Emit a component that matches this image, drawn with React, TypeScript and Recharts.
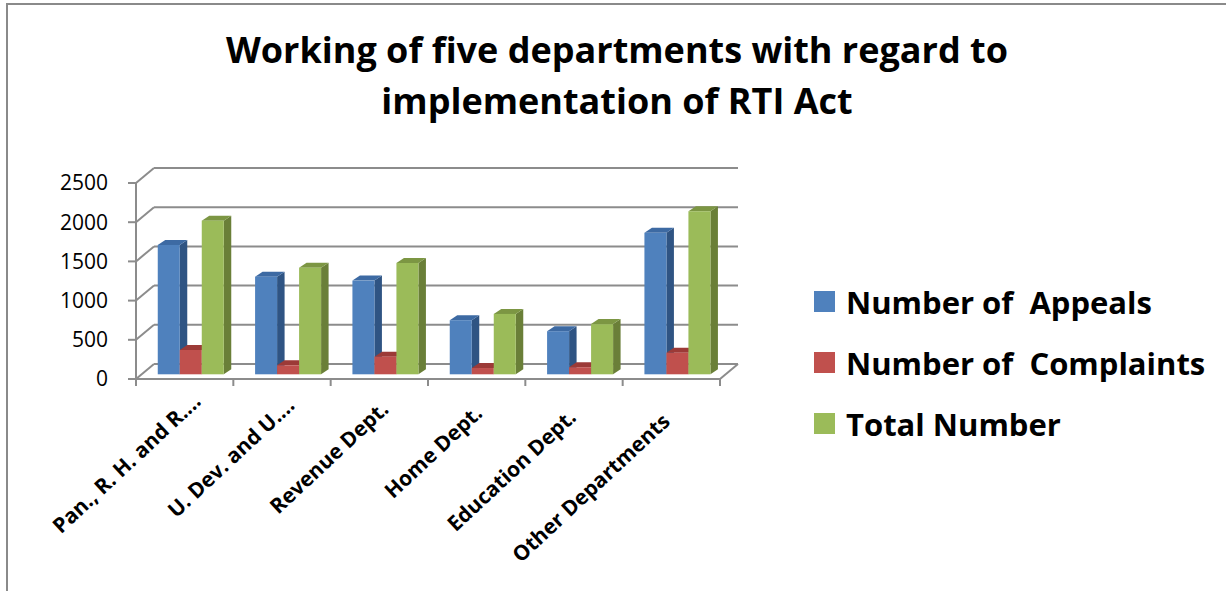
import React from 'react';
import { BarChart, Bar, XAxis, YAxis, CartesianGrid, Legend } from 'recharts';

const categories = ['Pan., R. H. and R....', 'U. Dev. and U....', 'Revenue Dept.', 'Home Dept.', 'Education Dept.', 'Other Departments'];
const appeals = [1650, 1245, 1195, 690, 550, 1805];
const complaints = [310, 115, 225, 80, 90, 275];
const totals = [1960, 1360, 1420, 770, 640, 2080];
const yTicks = [0, 500, 1000, 1500, 2000, 2500];
const seriesNames = ['Number of  Appeals', 'Number of  Complaints', 'Total Number'];
const titleLines = ['Working of five departments with regard to', 'implementation of RTI Act'];

const data = categories.map((c, i) => ({ name: c, appeals: appeals[i], complaints: complaints[i], total: totals[i] }));

const DX = 18, DY = 15;
const BOX = 5.6, BOY = 4.7;
const BDX = 7.5, BDY = 5;
const GRID = '#8C8C8C';
const FONT = '"Open Sans", Lato, sans-serif';

function make3D(front: string, side: string, top: string) {
  return (props: any) => {
    const { x, y, width, height } = props;
    if (x == null || y == null || !width) return <g />;
    const h = Math.max(height || 0, 0);
    const fx = x + BOX, fy = y - BOY;
    return (
      <g>
        <polygon points={`${fx + width},${fy} ${fx + width + BDX},${fy - BDY} ${fx + width + BDX},${fy + h - BDY} ${fx + width},${fy + h}`} fill={side} />
        <polygon points={`${fx},${fy} ${fx + BDX},${fy - BDY} ${fx + width + BDX},${fy - BDY} ${fx + width},${fy}`} fill={top} />
        <rect x={fx} y={fy} width={width} height={h} fill={front} />
      </g>
    );
  };
}

const gridLine = (props: any) => {
  const { x1, y1, x2, y2 } = props;
  return (
    <g key={props.key ?? `g-${y1}`}>
      <line x1={x1} y1={y1} x2={x1 + DX} y2={y1 - DY} stroke={GRID} strokeWidth={2} />
      <line x1={x1 + DX} y1={y1 - DY} x2={x2 + DX} y2={y2 - DY} stroke={GRID} strokeWidth={2} />
    </g>
  );
};

const CatTick = (props: any) => {
  const { x, y, payload, index } = props;
  const off = payload && payload.offset ? payload.offset : 584 / 12;
  const i = index ?? 0;
  const last = i === categories.length - 1;
  const dx = 17.5 - 3.5 * i;
  const dy = 24 + 4 * i;
  return (
    <g>
      <line x1={x - off} y1={y} x2={x - off} y2={y + 7} stroke={GRID} strokeWidth={2} />
      {last && <line x1={x + off} y1={y} x2={x + off} y2={y + 7} stroke={GRID} strokeWidth={2} />}
      {last && <line x1={x + off} y1={y} x2={x + off + DX} y2={y - DY} stroke={GRID} strokeWidth={2} />}
      <text
        transform={`translate(${x + dx},${y + dy}) rotate(-43)`}
        textAnchor="end"
        fontFamily={FONT}
        fontWeight={700}
        fontSize={21}
        fill="#000"
      >
        {payload.value}
      </text>
    </g>
  );
};

const renderLegend = (props: any) => {
  const { payload } = props;
  return (
    <div>
      {(payload || []).map((entry: any, idx: number) => (
        <div key={idx} style={{ display: 'flex', alignItems: 'center', height: 61 }}>
          <div style={{ width: 21, height: 21, background: entry.color, marginRight: 11, flex: 'none' }} />
          <span style={{ fontFamily: FONT, fontWeight: 700, fontSize: 31, lineHeight: '40px', color: '#000', whiteSpace: 'pre' }}>{entry.value}</span>
        </div>
      ))}
    </div>
  );
};

export default function App() {
  return (
    <div style={{ position: 'absolute', left: 0, top: 0, width: 1226, height: 591, background: '#fff' }}>
      <div style={{ position: 'absolute', left: 6, top: 3, width: 1218, height: 586, borderLeft: '2px solid #8A8A8A', borderTop: '2px solid #8A8A8A' }} />
      <div style={{ position: 'absolute', left: 8, top: 24, width: 1218, textAlign: 'center', fontFamily: FONT, fontWeight: 700, fontSize: 36, lineHeight: '51px', color: '#000', fontVariantLigatures: 'none' }}>
        {titleLines.map((t, i) => (<div key={i}>{t}</div>))}
      </div>
      <div style={{ position: 'absolute', left: 0, top: 0 }}>
        <BarChart
          width={1226}
          height={591}
          data={data}
          margin={{ top: 183, right: 506, bottom: 102, left: 0 }}
          barCategoryGap="16.6%"
          barGap={0}
        >
          <CartesianGrid vertical={false} horizontal={gridLine} />
          <YAxis
            width={136}
            domain={[0, 2500]}
            ticks={yTicks}
            interval={0}
            tickSize={8}
            tickMargin={20}
            axisLine={{ stroke: GRID, strokeWidth: 2 }}
            tickLine={{ stroke: GRID, strokeWidth: 2 }}
            tick={{ fontFamily: FONT, fontSize: 21, fill: '#000' }}
          />
          <XAxis
            dataKey="name"
            height={110}
            interval={0}
            tickSize={0}
            tickMargin={0}
            tickLine={false}
            axisLine={{ stroke: GRID, strokeWidth: 2 }}
            tick={CatTick}
          />
          <Legend
            layout="vertical"
            align="center"
            verticalAlign="middle"
            content={renderLegend}
            wrapperStyle={{ position: 'absolute', left: 814, top: 271, width: 410 }}
          />
          <Bar dataKey="appeals" name={seriesNames[0]} fill="#4F81BD" shape={make3D('#4F81BD', '#2F5483', '#3D6AA3')} isAnimationActive={false} />
          <Bar dataKey="complaints" name={seriesNames[1]} fill="#C0504D" shape={make3D('#C0504D', '#8C3432', '#9C3A37')} isAnimationActive={false} />
          <Bar dataKey="total" name={seriesNames[2]} fill="#9BBB59" shape={make3D('#9BBB59', '#6A7F38', '#7C9643')} isAnimationActive={false} />
        </BarChart>
      </div>
    </div>
  );
}
